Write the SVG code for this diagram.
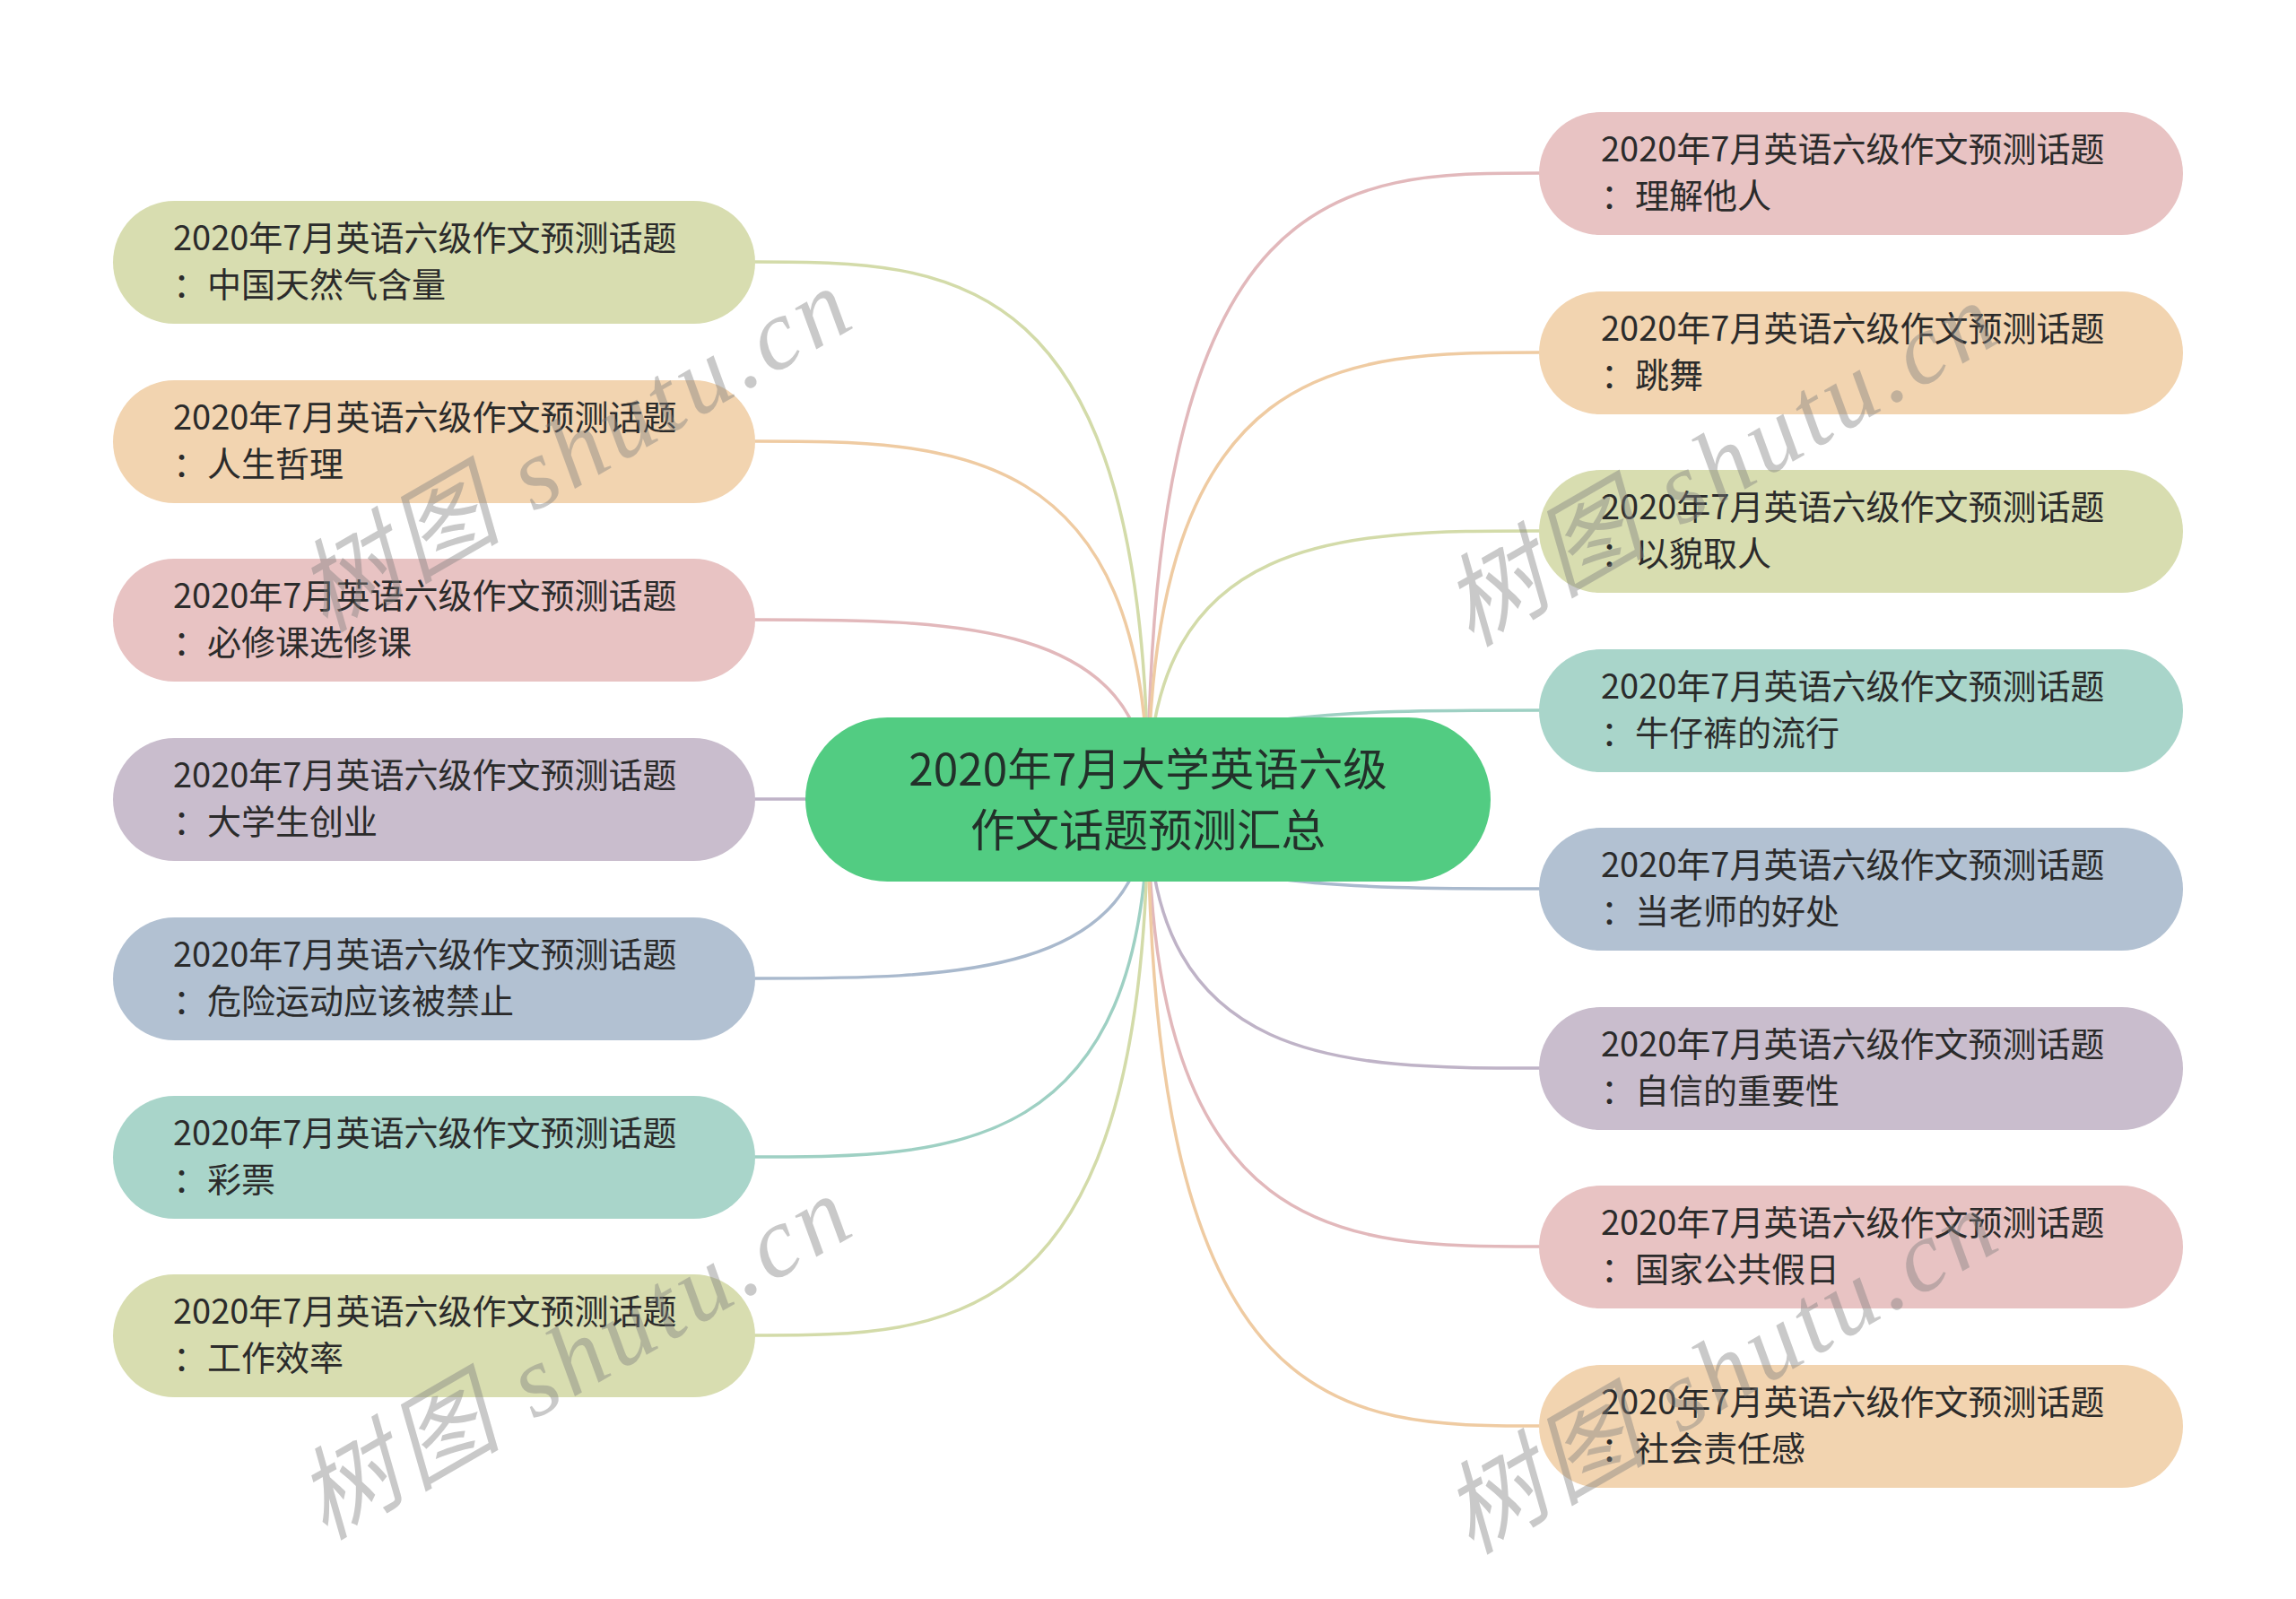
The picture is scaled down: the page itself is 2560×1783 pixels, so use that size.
<svg xmlns="http://www.w3.org/2000/svg" width="2560" height="1783" viewBox="0 0 2560 1783">
<style>
.t{font-family:"Noto Sans CJK SC","Noto Sans",sans-serif;font-size:38px;fill:#2b2b2b}
.r{font-family:"Noto Sans CJK SC","Noto Sans",sans-serif;font-size:49.5px;fill:#23302a;text-anchor:middle}
.c{fill:none;stroke-width:3.5;stroke-linecap:round}
.wm{font-family:"Liberation Serif","Noto Sans CJK SC",serif;font-style:italic;font-size:112px;fill:#808080;opacity:0.42}
.g{fill:#d8ddb0}.p{fill:#f2d4b0}.k{fill:#e8c3c3}.v{fill:#c9bdcd}.b{fill:#b2c1d2}.e{fill:#a9d5ca}
.cg{stroke:#d3dba9}.cp{stroke:#efcba2}.ck{stroke:#e2b8bb}.cv{stroke:#bfb3c7}.cb{stroke:#a9b9cd}.ce{stroke:#9ed0c3}
</style>
<rect width="2560" height="1783" fill="#ffffff"/>
<g id="connectors">
<path class="c cg" d="M1280 891 C1280 292 1061 292 842 292"/>
<path class="c cp" d="M1280 891 C1280 492 1061 492 842 492"/>
<path class="c ck" d="M1280 891 C1280 691 1061 691 842 691"/>
<path class="c cv" d="M1280 891 L842 891"/>
<path class="c cb" d="M1280 891 C1280 1091 1061 1091 842 1091"/>
<path class="c ce" d="M1280 891 C1280 1290 1061 1290 842 1290"/>
<path class="c cg" d="M1280 891 C1280 1489 1061 1489 842 1489"/>
<path class="c ck" d="M1280 891 C1280 193 1498 193 1716 193"/>
<path class="c cp" d="M1280 891 C1280 393 1498 393 1716 393"/>
<path class="c cg" d="M1280 891 C1280 592 1498 592 1716 592"/>
<path class="c ce" d="M1280 891 C1280 792 1498 792 1716 792"/>
<path class="c cb" d="M1280 891 C1280 991 1498 991 1716 991"/>
<path class="c cv" d="M1280 891 C1280 1191 1498 1191 1716 1191"/>
<path class="c ck" d="M1280 891 C1280 1390 1498 1390 1716 1390"/>
<path class="c cp" d="M1280 891 C1280 1590 1498 1590 1716 1590"/>
</g>
<g id="root">
<rect x="898" y="800" width="764" height="183" rx="91.5" fill="#52cc82"/>
<text class="r"><tspan x="1280" y="876">2020年7月大学英语六级</tspan><tspan x="1280" y="944">作文话题预测汇总</tspan></text>
</g>
<g id="l1"><rect class="g" x="126" y="224" width="716" height="137" rx="68.5"/><text class="t" x="193" y="279">2020年7月英语六级作文预测话题</text><text class="t" x="193" y="331">：中国天然气含量</text></g>
<g id="l2"><rect class="p" x="126" y="424" width="716" height="137" rx="68.5"/><text class="t" x="193" y="479">2020年7月英语六级作文预测话题</text><text class="t" x="193" y="531">：人生哲理</text></g>
<g id="l3"><rect class="k" x="126" y="623" width="716" height="137" rx="68.5"/><text class="t" x="193" y="678">2020年7月英语六级作文预测话题</text><text class="t" x="193" y="730">：必修课选修课</text></g>
<g id="l4"><rect class="v" x="126" y="823" width="716" height="137" rx="68.5"/><text class="t" x="193" y="878">2020年7月英语六级作文预测话题</text><text class="t" x="193" y="930">：大学生创业</text></g>
<g id="l5"><rect class="b" x="126" y="1023" width="716" height="137" rx="68.5"/><text class="t" x="193" y="1078">2020年7月英语六级作文预测话题</text><text class="t" x="193" y="1130">：危险运动应该被禁止</text></g>
<g id="l6"><rect class="e" x="126" y="1222" width="716" height="137" rx="68.5"/><text class="t" x="193" y="1277">2020年7月英语六级作文预测话题</text><text class="t" x="193" y="1329">：彩票</text></g>
<g id="l7"><rect class="g" x="126" y="1421" width="716" height="137" rx="68.5"/><text class="t" x="193" y="1476">2020年7月英语六级作文预测话题</text><text class="t" x="193" y="1528">：工作效率</text></g>
<g id="r1"><rect class="k" x="1716" y="125" width="718" height="137" rx="68.5"/><text class="t" x="1785" y="180">2020年7月英语六级作文预测话题</text><text class="t" x="1785" y="232">：理解他人</text></g>
<g id="r2"><rect class="p" x="1716" y="325" width="718" height="137" rx="68.5"/><text class="t" x="1785" y="380">2020年7月英语六级作文预测话题</text><text class="t" x="1785" y="432">：跳舞</text></g>
<g id="r3"><rect class="g" x="1716" y="524" width="718" height="137" rx="68.5"/><text class="t" x="1785" y="579">2020年7月英语六级作文预测话题</text><text class="t" x="1785" y="631">：以貌取人</text></g>
<g id="r4"><rect class="e" x="1716" y="724" width="718" height="137" rx="68.5"/><text class="t" x="1785" y="779">2020年7月英语六级作文预测话题</text><text class="t" x="1785" y="831">：牛仔裤的流行</text></g>
<g id="r5"><rect class="b" x="1716" y="923" width="718" height="137" rx="68.5"/><text class="t" x="1785" y="978">2020年7月英语六级作文预测话题</text><text class="t" x="1785" y="1030">：当老师的好处</text></g>
<g id="r6"><rect class="v" x="1716" y="1123" width="718" height="137" rx="68.5"/><text class="t" x="1785" y="1178">2020年7月英语六级作文预测话题</text><text class="t" x="1785" y="1230">：自信的重要性</text></g>
<g id="r7"><rect class="k" x="1716" y="1322" width="718" height="137" rx="68.5"/><text class="t" x="1785" y="1377">2020年7月英语六级作文预测话题</text><text class="t" x="1785" y="1429">：国家公共假日</text></g>
<g id="r8"><rect class="p" x="1716" y="1522" width="718" height="137" rx="68.5"/><text class="t" x="1785" y="1577">2020年7月英语六级作文预测话题</text><text class="t" x="1785" y="1629">：社会责任感</text></g>
<g id="watermarks">
<text class="wm" transform="translate(362 706) rotate(-30)" textLength="685" lengthAdjust="spacing">树图 shutu.cn</text>
<text class="wm" transform="translate(362 1718) rotate(-30)" textLength="685" lengthAdjust="spacing">树图 shutu.cn</text>
<text class="wm" transform="translate(1640 722) rotate(-30)" textLength="685" lengthAdjust="spacing">树图 shutu.cn</text>
<text class="wm" transform="translate(1640 1734) rotate(-30)" textLength="685" lengthAdjust="spacing">树图 shutu.cn</text>
</g>
</svg>
